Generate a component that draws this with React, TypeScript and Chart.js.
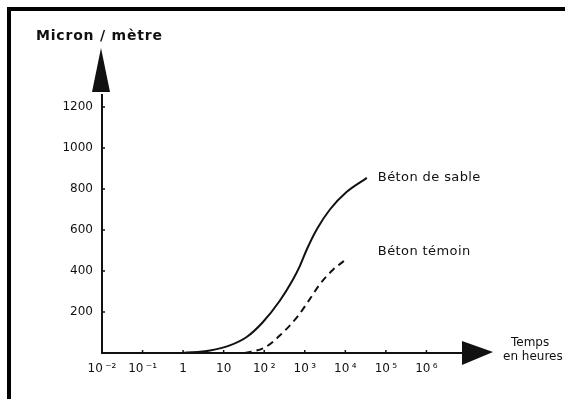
import React, { useEffect, useRef } from "react";
import { Chart, registerables } from "chart.js";

Chart.register(...registerables);

// Béton de sable (solid)
const hoursSable = [1, 4.6, 14.2, 37, 92, 242, 500, 760, 1120, 2000, 4170, 10700, 33900];
const valuesSable = [0, 12, 37, 78, 150, 255, 355, 425, 505, 605, 700, 785, 854];
// Béton témoin (dashed)
const hoursTemoin = [33, 102, 242, 676, 1330, 2340, 4900, 11500];
const valuesTemoin = [0, 26, 85, 180, 263, 335, 405, 463];

const xTickValues = [0.01, 0.1, 1, 10, 100, 1000, 10000, 100000, 1000000];
const xTickLabels = ["10\u2009⁻²", "10\u2009⁻¹", "1", "10", "10\u2009²", "10\u2009³", "10\u2009⁴", "10\u2009⁵", "10\u2009⁶"];
const yTickValues = [200, 400, 600, 800, 1000, 1200];

const seriesNames = ["Béton de sable", "Béton témoin"];
const yTitle = "Micron / mètre";
const xTitle = ["Temps", "en heures"];

const INK = "#111";
const FONT = "'DejaVu Sans', sans-serif";

const decorPlugin = {
  id: "decor",
  beforeDraw(chart: any) {
    const ctx = chart.ctx;
    ctx.save();
    ctx.fillStyle = "#fff";
    ctx.fillRect(0, 0, chart.width, chart.height);
    // scanned frame (top and left)
    ctx.fillStyle = "#000";
    ctx.fillRect(7, 7, chart.width - 7, 4);
    ctx.fillRect(7, 7, 4, chart.height - 7);
    ctx.restore();
  },
  afterDraw(chart: any) {
    const ctx = chart.ctx;
    const xs = chart.scales.x;
    const ys = chart.scales.y;
    const x0 = xs.getPixelForValue(xTickValues[0]);
    const y0 = ys.getPixelForValue(0);
    const top = chart.chartArea.top;
    ctx.save();
    ctx.strokeStyle = INK;
    ctx.fillStyle = INK;
    ctx.lineWidth = 2;
    // y axis
    ctx.beginPath();
    ctx.moveTo(x0, y0 + 1);
    ctx.lineTo(x0, top + 28);
    ctx.stroke();
    ctx.beginPath();
    ctx.moveTo(x0 - 1, top - 18);
    ctx.lineTo(x0 - 10, top + 26);
    ctx.lineTo(x0 + 8, top + 26);
    ctx.closePath();
    ctx.fill();
    // x axis
    const ax = 462;
    ctx.beginPath();
    ctx.moveTo(x0 - 1, y0);
    ctx.lineTo(ax + 2, y0);
    ctx.stroke();
    ctx.beginPath();
    ctx.moveTo(ax, y0 - 12);
    ctx.lineTo(ax + 31, y0 - 1);
    ctx.lineTo(ax, y0 + 12);
    ctx.closePath();
    ctx.fill();
    // tick marks
    ctx.lineWidth = 1.5;
    xTickValues.forEach((v, i) => {
      if (i === 0) return;
      const px = xs.getPixelForValue(v);
      ctx.beginPath();
      ctx.moveTo(px, y0);
      ctx.lineTo(px, y0 - 3);
      ctx.stroke();
    });
    yTickValues.forEach((v) => {
      const py = ys.getPixelForValue(v);
      ctx.beginPath();
      ctx.moveTo(x0, py);
      ctx.lineTo(x0 + 3, py);
      ctx.stroke();
    });
    // titles
    ctx.textBaseline = "middle";
    ctx.textAlign = "left";
    ctx.font = `600 14px ${FONT}`;
    (ctx as any).letterSpacing = "0.8px";
    ctx.fillText(yTitle, 36, top - 30);
    (ctx as any).letterSpacing = "0px";
    ctx.font = `12px ${FONT}`;
    ctx.fillText(xTitle[0], 511, y0 - 10);
    ctx.fillText(xTitle[1], 503, y0 + 4);
    // series labels
    const m0 = chart.getDatasetMeta(0).data;
    const m1 = chart.getDatasetMeta(1).data;
    const end0 = m0[m0.length - 1];
    const end1 = m1[m1.length - 1];
    ctx.font = `13px ${FONT}`;
    (ctx as any).letterSpacing = "0.4px";
    ctx.fillText(seriesNames[0], end0.x + 11, end0.y);
    ctx.fillText(seriesNames[1], end0.x + 11, end1.y - 6);
    ctx.restore();
  },
};

export default function App() {
  const ref = useRef<HTMLCanvasElement>(null);
  useEffect(() => {
    if (!ref.current) return;
    const chart = new Chart(ref.current, {
      type: "line",
      data: {
        datasets: [
          {
            label: seriesNames[0],
            data: hoursSable.map((h, i) => ({ x: h, y: valuesSable[i] })),
            borderColor: INK,
            borderWidth: 2,
            pointRadius: 0,
            fill: false,
            cubicInterpolationMode: "monotone",
          },
          {
            label: seriesNames[1],
            data: hoursTemoin.map((h, i) => ({ x: h, y: valuesTemoin[i] })),
            borderColor: INK,
            borderWidth: 2,
            borderDash: [7, 5],
            pointRadius: 0,
            fill: false,
            cubicInterpolationMode: "monotone",
          },
        ],
      },
      options: {
        responsive: false,
        animation: false,
        layout: { padding: { left: 0, top: 66, right: 98, bottom: 0 } },
        plugins: { legend: { display: false }, tooltip: { enabled: false }, title: { display: false } },
        scales: {
          x: {
            type: "logarithmic",
            min: 0.01,
            max: 1e7,
            grid: { display: false, drawTicks: false },
            border: { display: false },
            afterBuildTicks: (s: any) => {
              s.ticks = xTickValues.map((v) => ({ value: v }));
            },
            afterFit: (s: any) => {
              s.height = 46;
            },
            ticks: {
              autoSkip: false,
              maxRotation: 0,
              padding: 9,
              color: INK,
              font: { family: FONT, size: 12 },
              callback: (v: any) => {
                const i = xTickValues.findIndex((t) => Math.abs(Math.log10(t) - Math.log10(Number(v))) < 1e-6);
                return i >= 0 ? xTickLabels[i] : "";
              },
            },
          },
          y: {
            type: "linear",
            min: 0,
            max: 1400,
            grid: { display: false, drawTicks: false },
            border: { display: false },
            afterBuildTicks: (s: any) => {
              s.ticks = yTickValues.map((v) => ({ value: v }));
            },
            afterFit: (s: any) => {
              s.width = 102;
            },
            ticks: {
              padding: 9,
              color: INK,
              font: { family: FONT, size: 12 },
              callback: (v: any) => String(v),
            },
          },
        },
      },
      plugins: [decorPlugin],
    } as any);
    return () => chart.destroy();
  }, []);
  return (
    <div style={{ position: "fixed", left: 0, top: 0, width: 565, height: 399, background: "#fff" }}>
      <canvas ref={ref} width={565} height={399} style={{ display: "block" }} />
    </div>
  );
}
